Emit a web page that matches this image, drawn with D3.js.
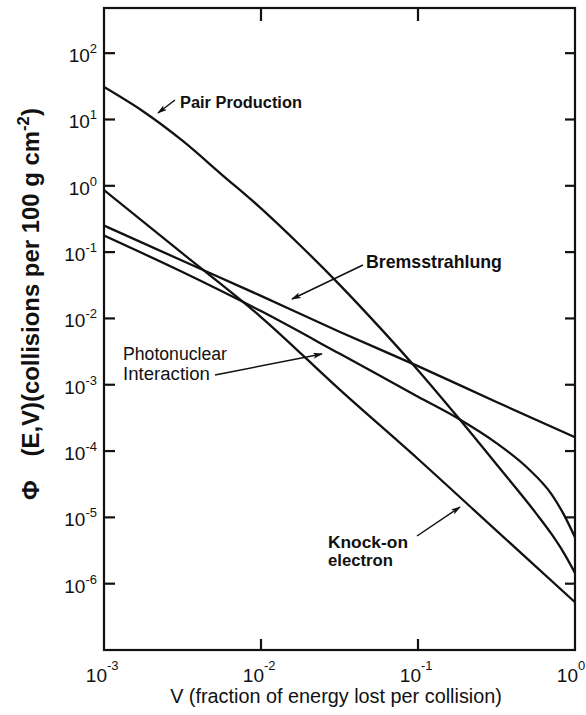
<!DOCTYPE html>
<html>
<head>
<meta charset="utf-8">
<script src="https://cdn.jsdelivr.net/npm/d3@7"></script>
<style>
  html, body { margin: 0; padding: 0; background: #fff; }
  svg { display: block; }
</style>
</head>
<body>
<svg id="chart" width="586" height="715"></svg>
<script>
// Φ(E,V): collisions per 100 g cm^-2 versus V, the fraction of energy lost per collision

// Pair production
const pairV   = [0.001, 0.00178, 0.00316, 0.00562, 0.01, 0.0178, 0.0316, 0.0562, 0.1, 0.178, 0.316, 0.562, 0.708, 0.841, 1.0];
const pairPhi = [30.9, 13.2, 4.79, 1.48, 0.457, 0.126, 0.0324, 0.00759, 0.00166, 3.31e-4, 6.31e-5, 1.17e-5, 5.62e-6, 3.02e-6, 1.45e-6];

// Bremsstrahlung
const bremV   = [0.001, 0.00316, 0.01, 0.0316, 0.1, 0.316, 1.0];
const bremPhi = [0.251, 0.0741, 0.0219, 0.00631, 0.00191, 5.50e-4, 1.62e-4];

// Photonuclear interaction
const photoV   = [0.001, 0.00316, 0.01, 0.0316, 0.1, 0.178, 0.316, 0.501, 0.708, 0.841, 1.0];
const photoPhi = [0.178, 0.0501, 0.0129, 0.00295, 6.61e-4, 3.16e-4, 1.32e-4, 5.50e-5, 2.24e-5, 1.15e-5, 5.01e-6];

// Knock-on electron
const knockV   = [0.001, 0.00316, 0.01, 0.0316, 0.1, 0.316, 1.0];
const knockPhi = [0.861, 0.0955, 0.0105, 8.51e-4, 7.59e-5, 6.31e-6, 5.25e-7];

// Axis decades
const xTickValues = [1e-3, 1e-2, 1e-1, 1];
const xTickExps   = ["-3", "-2", "-1", "0"];
const xInnerTicks = [1e-2, 1e-1];
const yTickValues = [1e2, 1e1, 1e0, 1e-1, 1e-2, 1e-3, 1e-4, 1e-5, 1e-6];
const yTickExps   = ["2", "1", "0", "-1", "-2", "-3", "-4", "-5", "-6"];

const FONT = "'Liberation Sans', Arial, sans-serif";
const INK = "#111";

const svg = d3.select("#chart");
const plot = { left: 104, right: 575, top: 8, bottom: 650 };

const x = d3.scaleLog().domain([1e-3, 1]).range([plot.left, plot.right]);
const y = d3.scaleLog().domain([1e-7, 480]).range([plot.bottom, plot.top]);

// scale a text's font size so that it spans the given width
function fit(sel, width) {
  const w = sel.node().getComputedTextLength();
  const fs = parseFloat(sel.attr("font-size"));
  sel.attr("font-size", (fs * width / w).toFixed(2));
  return sel;
}

const defs = svg.append("defs");
defs.append("clipPath").attr("id", "plotClip")
  .append("rect")
  .attr("x", plot.left).attr("y", plot.top)
  .attr("width", plot.right - plot.left).attr("height", plot.bottom - plot.top);

defs.append("marker")
  .attr("id", "arrow")
  .attr("viewBox", "0 0 10 6")
  .attr("refX", 9).attr("refY", 3)
  .attr("markerWidth", 10).attr("markerHeight", 6)
  .attr("markerUnits", "userSpaceOnUse")
  .attr("orient", "auto")
  .append("path")
  .attr("d", "M0,0 L10,3 L0,6 L2.5,3 Z")
  .attr("fill", INK);

// curves
const series = [
  { v: pairV,  phi: pairPhi },
  { v: bremV,  phi: bremPhi },
  { v: photoV, phi: photoPhi },
  { v: knockV, phi: knockPhi }
];

const line = d3.line()
  .x(d => x(d[0]))
  .y(d => y(d[1]))
  .curve(d3.curveMonotoneX);

svg.append("g").attr("clip-path", "url(#plotClip)")
  .selectAll("path")
  .data(series)
  .join("path")
  .attr("d", s => line(s.v.map((v, i) => [v, s.phi[i]])))
  .attr("fill", "none")
  .attr("stroke", INK)
  .attr("stroke-width", 2.3)
  .attr("stroke-linejoin", "round");

// frame
svg.append("rect")
  .attr("x", plot.left).attr("y", plot.top)
  .attr("width", plot.right - plot.left).attr("height", plot.bottom - plot.top)
  .attr("fill", "none").attr("stroke", INK).attr("stroke-width", 2.2);

// inward ticks on all four sides
const ticks = svg.append("g").attr("stroke", INK).attr("stroke-width", 2.2);
ticks.selectAll(".yl").data(yTickValues).join("line")
  .attr("x1", plot.left).attr("x2", plot.left + 11)
  .attr("y1", d => y(d)).attr("y2", d => y(d));
ticks.selectAll(".yr").data(yTickValues).join("line")
  .attr("x1", plot.right).attr("x2", plot.right - 10)
  .attr("y1", d => y(d)).attr("y2", d => y(d));
ticks.selectAll(".xt").data(xInnerTicks).join("line")
  .attr("x1", d => x(d)).attr("x2", d => x(d))
  .attr("y1", plot.top).attr("y2", plot.top + 13);
ticks.selectAll(".xb").data(xInnerTicks).join("line")
  .attr("x1", d => x(d)).attr("x2", d => x(d))
  .attr("y1", plot.bottom).attr("y2", plot.bottom - 11);

// y tick labels: 10 with a raised exponent
const yLab = svg.append("g").attr("font-family", FONT).attr("fill", INK);
yTickValues.forEach((v, i) => {
  const t = yLab.append("text")
    .attr("x", 97).attr("y", y(v) + 9)
    .attr("text-anchor", "end");
  t.append("tspan").attr("font-size", 19).text("10");
  t.append("tspan").attr("font-size", 13).attr("dy", -9).text(yTickExps[i]);
});

// x tick labels
const xLab = svg.append("g").attr("font-family", FONT).attr("fill", INK);
xTickValues.forEach((v, i) => {
  xLab.append("text")
    .attr("x", x(v) + 3).attr("y", 682)
    .attr("text-anchor", "end")
    .attr("font-size", 19)
    .text("10");
  xLab.append("text")
    .attr("x", x(v) + 3).attr("y", 670)
    .attr("font-size", 13)
    .text(xTickExps[i]);
});

// x axis title
const xTitle = svg.append("text")
  .attr("x", 336).attr("y", 703)
  .attr("text-anchor", "middle")
  .attr("font-family", FONT).attr("font-size", 18)
  .attr("fill", INK)
  .text("V (fraction of energy lost per collision)");
fit(xTitle, 332);

// y axis title, reading upward
const yTitle = svg.append("text")
  .attr("transform", "translate(39,500) rotate(-90)")
  .attr("font-family", FONT).attr("font-size", 19)
  .attr("font-weight", "bold")
  .attr("fill", INK);
yTitle.append("tspan").text("Φ");
yTitle.append("tspan").attr("dx", "1.0em").text("(E,V)(collisions per 100 g cm");
yTitle.append("tspan").attr("font-size", "0.7em").attr("dy", "-0.6em").text("-2");
yTitle.append("tspan").attr("dy", "0.42em").text(")");
fit(yTitle, 368);

// curve annotations
const notes = svg.append("g").attr("font-family", FONT).attr("fill", INK);
function note(txt, tx, ty, width, weight) {
  const t = notes.append("text")
    .attr("x", tx).attr("y", ty)
    .attr("font-size", 16).attr("font-weight", weight)
    .text(txt);
  fit(t, width);
}
note("Pair Production", 180, 108, 122, "bold");
note("Bremsstrahlung", 366, 268, 136, "bold");
note("Photonuclear", 123, 360, 104, "normal");
note("Interaction", 123, 380, 87, "normal");
note("Knock-on", 328, 548, 80, "bold");
note("electron", 328, 566, 65, "bold");

const arrows = [
  [[175, 100], [158, 113]],
  [[363, 265], [292, 299]],
  [[215, 375], [322, 354]],
  [[417, 536], [460, 507]]
];
svg.append("g").selectAll("line").data(arrows).join("line")
  .attr("x1", d => d[0][0]).attr("y1", d => d[0][1])
  .attr("x2", d => d[1][0]).attr("y2", d => d[1][1])
  .attr("stroke", INK).attr("stroke-width", 1.5)
  .attr("marker-end", "url(#arrow)");
</script>
</body>
</html>
